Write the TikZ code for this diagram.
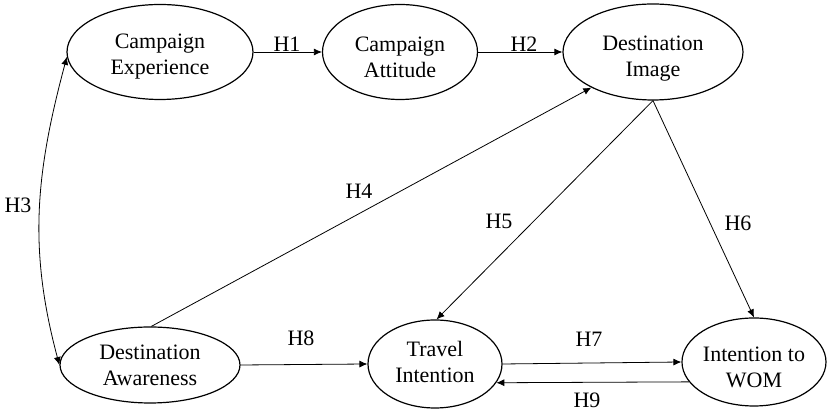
\documentclass[tikz,border=0pt]{standalone}
\usepackage{fontspec}
\setmainfont{Liberation Serif}
\usetikzlibrary{shapes.geometric,arrows.meta}
\begin{document}
\begin{tikzpicture}[x=0.5pt,y=-0.5pt,
  construct/.style={ellipse,draw,line width=0.6pt,inner sep=0pt},
  ctext/.style={align=center,inner sep=0pt,font=\fontsize{11pt}{13pt}\selectfont},
  path/.style={line width=0.4pt,-{Latex[length=4pt,width=3.5pt]}},
  lab/.style={font=\fontsize{11pt}{13pt}\selectfont,inner sep=0pt}]
\useasboundingbox (0,0) rectangle (827,410);
\node[construct,minimum width=93pt,minimum height=47.5pt] (CE) at (160,52) {};
\node[construct,minimum width=77.5pt,minimum height=47.5pt] (CA) at (400,52) {};
\node[construct,minimum width=90pt,minimum height=48pt] (DI) at (653,52) {};
\node[construct,minimum width=90pt,minimum height=38pt] (DA) at (150,365) {};
\node[construct,minimum width=67pt,minimum height=44pt] (TI) at (435,364) {};
\node[construct,minimum width=72pt,minimum height=44pt] (WOM) at (754,362) {};
\node[ctext] (CEt) at (160,57) {Campaign\\Experience};
\node[ctext] (CAt) at (400,57) {Campaign\\Attitude};
\node[ctext] (DIt) at (653,59) {Destination\\Image};
\node[ctext] (DAt) at (150,365) {Destination\\Awareness};
\node[ctext] (TIt) at (435,362) {Travel\\Intention};
\node[ctext] (WOMt) at (754,367) {Intention to\\WOM};
\draw[path] (CE) -- (CA);
\draw[path] (CA) -- (DI);
\draw[line width=0.4pt,{Latex[length=4pt,width=3.5pt]}-{Latex[length=4pt,width=3.5pt]}] (CE.183) to[out=255,in=105] (DA.west);
\draw[path] (DA.88) -- (DI.210);
\draw[path] (DI.south) -- (TI.88);
\draw[path] (DI.south) -- (WOM.north);
\draw[path] (DA.east) -- (TI.west);
\draw[path] (TI.east) -- (WOM.west);
\draw[path] (WOM.197) -- (TI.343);
\node[lab] (h1) at (287,44.5) {H1};
\node[lab] (h2) at (524,44.5) {H2};
\node[lab] (h3) at (18,205) {H3};
\node[lab] (h4) at (359,191) {H4};
\node[lab] (h5) at (499,221) {H5};
\node[lab] (h6) at (738,223) {H6};
\node[lab] (h7) at (589,339) {H7};
\node[lab] (h8) at (301,338) {H8};
\node[lab] (h9) at (587,400) {H9};
\end{tikzpicture}
\end{document}
